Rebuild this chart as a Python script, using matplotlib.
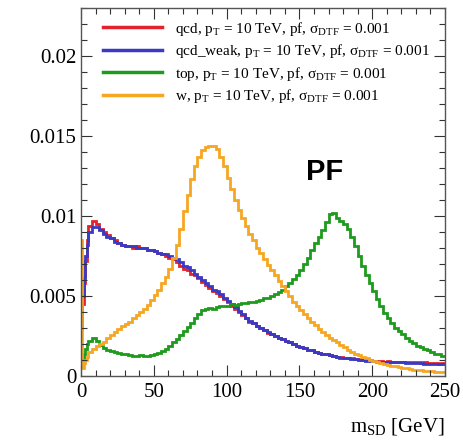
import numpy as np
import matplotlib
matplotlib.use("Agg")
import matplotlib.pyplot as plt
from matplotlib.ticker import MultipleLocator

# ---- data (bin contents in units of 1e-4) ----
SCALE = 1e-4
fine_edges = [0, 1, 2, 3, 4, 5]          # 1 GeV bins at low mass
coarse_width = 2.5                         # GeV bins from 5 to 250

qcd = [30, 45, 58, 72, 85,
       94, 97, 95, 92, 90, 88, 86, 85, 83, 82, 81, 81, 80, 81, 80, 80, 79, 79, 78, 77,
       76, 75, 74, 73, 71, 69, 67, 66, 64, 63, 61, 59, 57, 55, 53, 52, 50, 48, 46, 44,
       42, 40, 38, 36, 34, 33, 31, 30, 29, 27, 26, 25, 24, 23, 22, 21, 20, 19, 18, 17.5,
       16.5, 16, 15, 14.5, 14, 13.5, 13, 12.5, 12, 12, 11.5, 11, 11, 10.5, 10.5, 10, 10, 10,
       9.5, 9.5, 9.5, 9, 9.5, 9, 9, 9, 9, 8.5, 8.5, 8.5, 8.5, 8, 8.5, 8, 8, 8, 7.5, 8]

qcd_weak = [30, 50, 62, 75, 82,
            90, 93, 93, 91, 89, 87, 86, 84, 83, 82, 81, 81, 81, 80, 80, 80, 79, 79, 78, 77,
            76, 76, 75, 74, 73, 71, 69, 68, 66, 64, 62, 60, 58, 56, 54, 53, 51, 49, 47, 45,
            43, 40.5, 38.5, 36.5, 34.5, 33, 31.5, 30, 29, 27.5, 26, 25, 24, 23, 22, 21, 20, 19, 18, 17.5,
            16.5, 16, 15, 14.5, 14, 13.5, 13, 12.5, 12, 11.5, 11, 11, 10.5, 10.5, 10, 10, 9.5, 9.5,
            9.5, 9, 9, 9, 8.5, 8.5, 8.5, 8.5, 8.5, 8, 8, 8, 8, 8, 7.5, 7.5, 7.5, 7.5, 7.5, 7.5]

top = [6, 10, 14, 17, 20,
       22, 23.5, 22, 19.5, 17.5, 16.5, 15.5, 15, 14.5, 14, 13.5, 13, 12.5, 12.5, 13, 12.5,
       12.5, 13, 13.5, 14.5, 15.5, 17, 19, 21, 23, 25.5, 28, 30.5, 33, 36, 39, 41, 42, 42.5,
       42, 43, 43.5, 44, 44, 45, 44.5, 45, 45.5, 45.5, 46, 46.5, 47, 47.5, 48.5, 49, 50, 51,
       52.5, 54, 56, 58, 60.5, 63, 66, 70, 74, 78.5, 83, 87, 91, 96, 101, 102, 99, 97, 95,
       92, 87, 81, 75, 69, 63, 58, 53, 48, 43.5, 39.5, 36, 33, 30, 28, 26, 24, 22, 20.5, 19,
       18, 17, 16, 15, 14, 13.5, 12.5]

w = [85, 5, 8, 10, 12,
     15, 17, 18.5, 20, 21.5, 23.5, 25.5, 27.5, 29.5, 31, 32.5, 34, 36, 38, 40, 42, 44.5,
     47.5, 50.5, 54, 58, 62, 67, 74, 82, 92, 103, 113, 123, 131, 137, 141, 143, 144, 144,
     142, 137, 131, 124, 117, 110, 104, 99, 94, 89, 85, 80, 77, 73, 69.5, 66, 63, 59.5,
     56.5, 53, 50, 46.5, 43.5, 41, 38.5, 36, 34, 32, 29.5, 27.5, 25.5, 24, 22.5, 21, 19.5,
     18, 16.5, 15, 14, 13, 12, 11, 10, 9.5, 8.5, 8, 7.5, 7, 6.5, 6, 5.5, 5, 5, 4.5, 4,
     3.5, 3.5, 3, 3, 3, 2.5, 2.5, 2.5]

labels = [r"qcd, p$_{\rm T}$ = 10 TeV, pf, $\sigma_{\rm DTF}$ = 0.001",
          r"qcd_weak, p$_{\rm T}$ = 10 TeV, pf, $\sigma_{\rm DTF}$ = 0.001",
          r"top, p$_{\rm T}$ = 10 TeV, pf, $\sigma_{\rm DTF}$ = 0.001",
          r"w, p$_{\rm T}$ = 10 TeV, pf, $\sigma_{\rm DTF}$ = 0.001"]
colors = ["#e3222b", "#3a3ac4", "#1e9a1e", "#f5a623"]

x_ticks = [0, 50, 100, 150, 200, 250]
x_ticklabels = ["0", "50", "100", "150", "200", "250"]
y_ticks = [0, 0.005, 0.01, 0.015, 0.02]
y_ticklabels = ["0", "0.005", "0.01", "0.015", "0.02"]

# ---- styling ----
plt.rcParams["font.family"] = ["Liberation Serif", "DejaVu Serif"]
plt.rcParams["mathtext.fontset"] = "custom"
plt.rcParams["mathtext.rm"] = "Liberation Serif"
plt.rcParams["mathtext.it"] = "Liberation Serif:italic"
plt.rcParams["mathtext.default"] = "rm"

edges = np.concatenate([fine_edges[:-1], np.arange(5, 250 + 1e-9, coarse_width)])

fig = plt.figure(figsize=(4.63, 4.42), dpi=100)
ax = fig.add_axes([81 / 463, 66 / 442, 364 / 463, 368 / 442])

for vals, c, lab in zip([qcd, qcd_weak, top, w], colors, labels):
    ax.stairs(np.array(vals) * SCALE, edges, color=c, lw=2.0, label=lab, baseline=None)

ax.set_xlim(0, 250)
ax.set_ylim(0, 0.023)
ax.set_xticks(x_ticks)
ax.set_xticklabels(x_ticklabels)
ax.set_yticks(y_ticks)
ax.set_yticklabels(y_ticklabels)
ax.xaxis.set_minor_locator(MultipleLocator(10))
ax.yaxis.set_minor_locator(MultipleLocator(0.001))
ax.tick_params(which="both", direction="in", top=True, right=True, labelsize=15,
               colors="#333333", labelcolor="black")
ax.tick_params(which="major", length=8, width=0.8)
ax.tick_params(which="minor", length=4, width=0.8)
ax.tick_params(axis="x", pad=5)
for s in ax.spines.values():
    s.set_color("#555555")
    s.set_linewidth(1.0)

ax.text(1.0, -0.11, r"m$_{\rm SD}$ [GeV]", transform=ax.transAxes, ha="right",
        va="top", fontsize=15)

ax.text(0.67, 0.555, "PF", transform=ax.transAxes, ha="center", va="center",
        fontsize=21, fontweight="bold", family=["Liberation Sans", "DejaVu Sans"])

leg = ax.legend(loc="upper left", bbox_to_anchor=(0.043, 0.985), frameon=False,
                fontsize=11, handlelength=3.9, handletextpad=0.85, labelspacing=0.3,
                borderaxespad=0.0)
for line in leg.get_lines():
    line.set_linewidth(2.5)

fig.savefig("out.png", dpi=100)
